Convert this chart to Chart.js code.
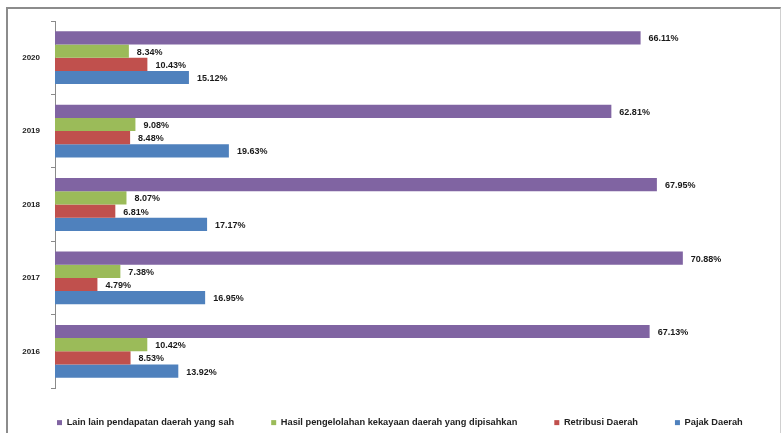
<!DOCTYPE html>
<html>
<head>
<meta charset="utf-8">
<script src="https://cdn.jsdelivr.net/npm/chart.js@4/dist/chart.umd.min.js"></script>
<style>
html,body{margin:0;padding:0;background:#fff;}
#wrap{position:relative;width:784px;height:433px;overflow:hidden;}
#frame{position:absolute;left:6px;top:7px;width:772px;height:440px;border-top:2px solid #8c8c8c;border-left:2px solid #8c8c8c;border-right:1px solid #d0d0d0;pointer-events:none;}
canvas{position:absolute;left:0;top:0;}
</style>
</head>
<body>
<div id="wrap">
<canvas id="c" width="784" height="433"></canvas>
<div id="frame"></div>
</div>
<script>
const categories = ['2020', '2019', '2018', '2017', '2016'];
const seriesNames = [
  'Lain lain pendapatan daerah yang sah',
  'Hasil pengelolahan kekayaan daerah yang dipisahkan',
  'Retribusi Daerah',
  'Pajak Daerah'
];
const lainLain = [66.11, 62.81, 67.95, 70.88, 67.13];
const hasilKekayaan = [8.34, 9.08, 8.07, 7.38, 10.42];
const retribusi = [10.43, 8.48, 6.81, 4.79, 8.53];
const pajak = [15.12, 19.63, 17.17, 16.95, 13.92];
const colors = ['#8064A2', '#9BBB59', '#C0504D', '#4F81BD'];

const valueLabels = {
  id: 'valueLabels',
  afterDatasetsDraw(chart) {
    const ctx = chart.ctx;
    ctx.save();
    ctx.font = 'bold 9px "Liberation Sans", Arial, sans-serif';
    ctx.fillStyle = '#1a1a1a';
    ctx.textAlign = 'left';
    ctx.textBaseline = 'middle';
    chart.data.datasets.forEach((ds, i) => {
      const meta = chart.getDatasetMeta(i);
      meta.data.forEach((el, j) => {
        ctx.fillText(ds.data[j].toFixed(2) + '%', el.x + 8, el.y + 1);
      });
    });
    ctx.restore();
  }
};

const legendFix = {
  id: 'legendFix',
  beforeLayout(chart) {
    const lg = chart.legend;
    if (lg && !lg._fixed) {
      const orig = lg.fit.bind(lg);
      lg.fit = function () { orig(); this.height = 45; };
      lg._fixed = true;
    }
  },
  afterLayout(chart) {
    const lg = chart.legend;
    if (lg) { lg.top -= 7; }
  }
};

new Chart(document.getElementById('c'), {
  type: 'bar',
  data: {
    labels: categories,
    datasets: [
      { label: seriesNames[0], data: lainLain, backgroundColor: colors[0] },
      { label: seriesNames[1], data: hasilKekayaan, backgroundColor: colors[1] },
      { label: seriesNames[2], data: retribusi, backgroundColor: colors[2] },
      { label: seriesNames[3], data: pajak, backgroundColor: colors[3] }
    ]
  },
  options: {
    indexAxis: 'y',
    responsive: false,
    animation: false,
    devicePixelRatio: 1,
    layout: { padding: { left: 20, right: 0, top: 21, bottom: 0 } },
    datasets: { bar: { categoryPercentage: 0.72, barPercentage: 1.0, borderWidth: 0 } },
    scales: {
      x: { display: false, min: 0, max: 82.3 },
      y: {
        afterFit(scale) { scale.width = 35; },
        border: { display: true, color: '#8a8a8a', width: 1 },
        grid: { display: true, drawOnChartArea: false, drawTicks: true, tickLength: 4, color: '#8a8a8a', offset: true },
        ticks: { color: '#222', padding: 11, font: { family: '"Liberation Sans", Arial, sans-serif', size: 8, weight: 'bold' } }
      }
    },
    plugins: {
      tooltip: { enabled: false },
      legend: {
        position: 'bottom',
        align: 'start',
        labels: {
          boxWidth: 5, boxHeight: 5, padding: 37, color: '#222',
          font: { family: '"Liberation Sans", Arial, sans-serif', size: 9.25, weight: 'bold' }
        }
      }
    }
  },
  plugins: [valueLabels, legendFix]
});
</script>
</body>
</html>
